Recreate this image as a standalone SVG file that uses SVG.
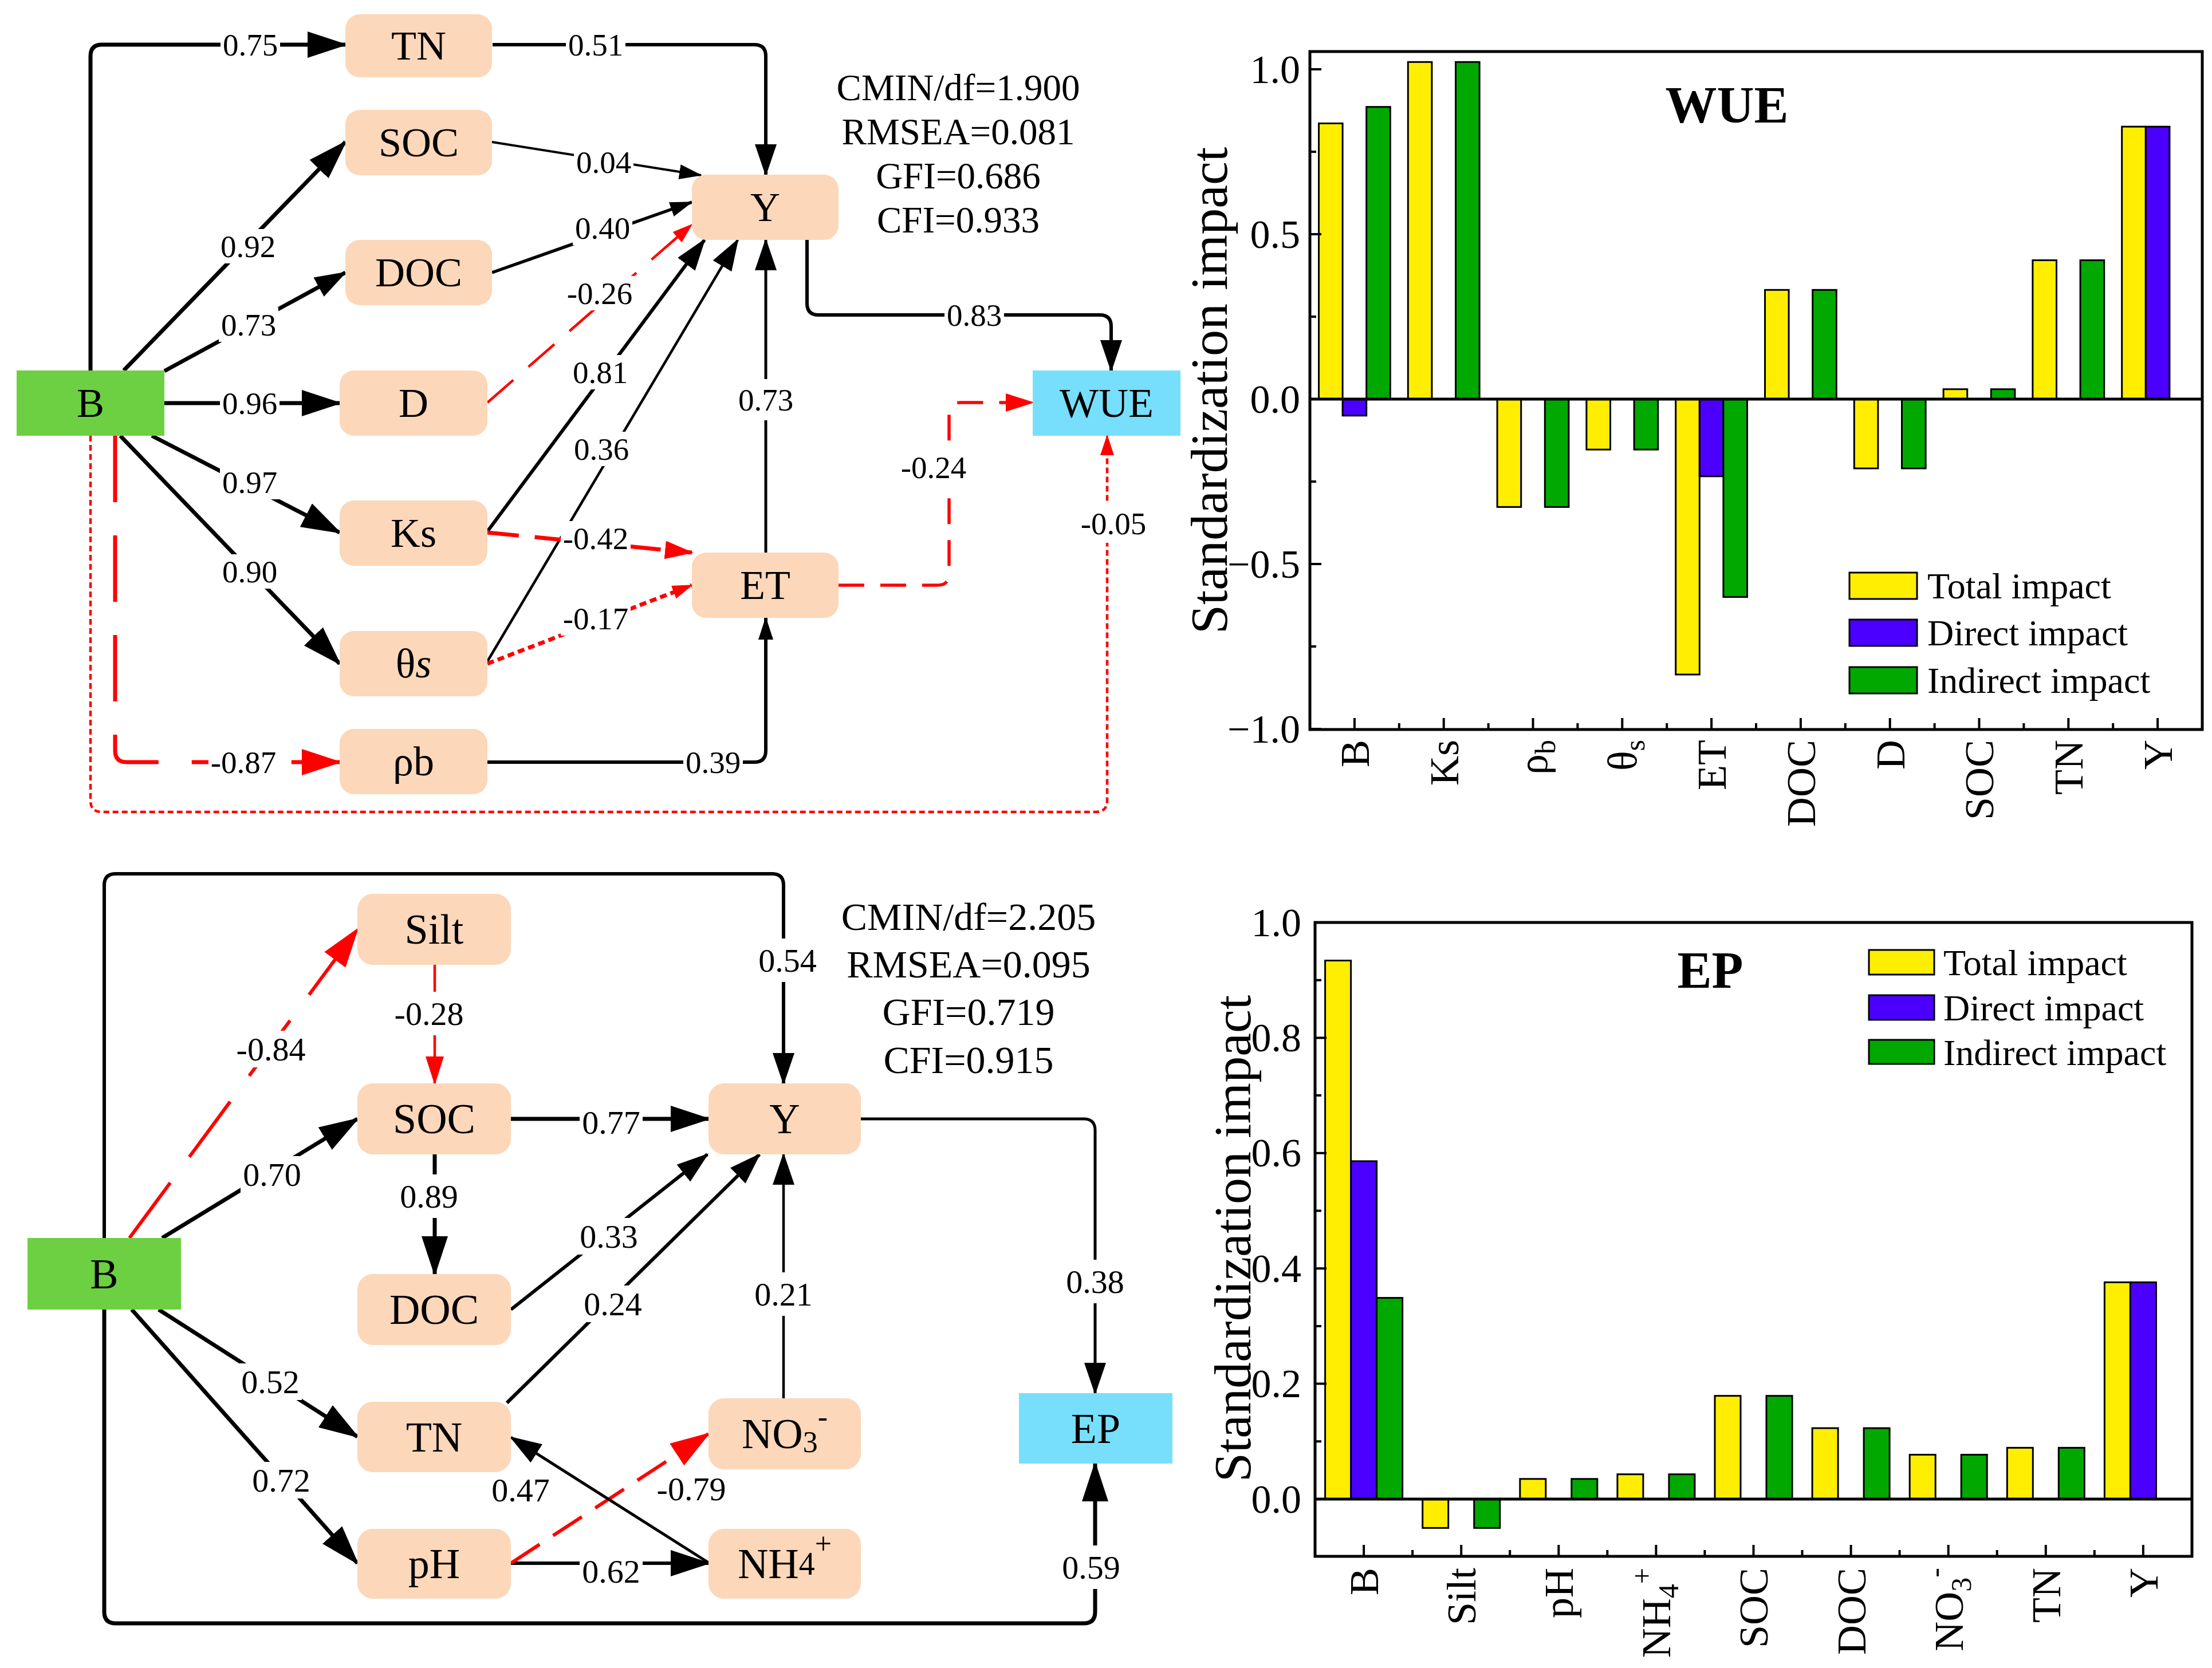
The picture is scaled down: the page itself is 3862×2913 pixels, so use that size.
<svg xmlns="http://www.w3.org/2000/svg" width="3862" height="2913" viewBox="0 0 3862 2913">
<style>
text{font-family:"Liberation Serif","Times New Roman",serif;fill:#000}
.nd{fill:#FCD7B9}
.gb{fill:#6DD042}
.cy{fill:#77DFFC}
.bg{fill:#fff}
.nt{font-size:72px;text-anchor:middle;dominant-baseline:central}
.nt2{font-size:74px;text-anchor:middle;dominant-baseline:central}
.lb{font-size:55px;text-anchor:middle;dominant-baseline:central}
.lb2{font-size:58px;text-anchor:middle;dominant-baseline:central}
.st{font-size:65px;text-anchor:middle}
.st2{font-size:68px;text-anchor:middle}
.k{fill:none;stroke:#000;stroke-linejoin:round}
.r{fill:none;stroke:#f00;stroke-linejoin:round}
.ty{fill:#FFEE00;stroke:#000;stroke-width:3}
.tp{fill:#4B00FF;stroke:#000;stroke-width:3}
.tg{fill:#00A800;stroke:#000;stroke-width:3}
.ax{fill:none;stroke:#000;stroke-width:5}
.tk{stroke:#000;stroke-width:4}
.tl{font-size:70px;text-anchor:end;dominant-baseline:central}
.xl{font-size:72px;text-anchor:end}
.yt{font-size:92px;text-anchor:middle;dominant-baseline:central}
.ct{font-size:90px;font-weight:bold;text-anchor:middle}
.lg{font-size:64px;dominant-baseline:central}
</style>
<defs>
<marker id="kL" viewBox="0 0 70 46" refX="66" refY="23" markerWidth="70" markerHeight="46" markerUnits="userSpaceOnUse" orient="auto"><path d="M0,0L70,23L0,46z" fill="#000"/></marker>
<marker id="kM" viewBox="0 0 56 38" refX="53" refY="19" markerWidth="56" markerHeight="38" markerUnits="userSpaceOnUse" orient="auto"><path d="M0,0L56,19L0,38z" fill="#000"/></marker>
<marker id="kS" viewBox="0 0 40 26" refX="38" refY="13" markerWidth="40" markerHeight="26" markerUnits="userSpaceOnUse" orient="auto"><path d="M0,0L40,13L0,26z" fill="#000"/></marker>
<marker id="rL" viewBox="0 0 70 46" refX="66" refY="23" markerWidth="70" markerHeight="46" markerUnits="userSpaceOnUse" orient="auto"><path d="M0,0L70,23L0,46z" fill="#f00"/></marker>
<marker id="rM" viewBox="0 0 50 32" refX="47" refY="16" markerWidth="50" markerHeight="32" markerUnits="userSpaceOnUse" orient="auto"><path d="M0,0L50,16L0,32z" fill="#f00"/></marker>
<marker id="rS" viewBox="0 0 36 24" refX="34" refY="12" markerWidth="36" markerHeight="24" markerUnits="userSpaceOnUse" orient="auto"><path d="M0,0L36,12L0,24z" fill="#f00"/></marker>
</defs>
<rect width="3862" height="2913" fill="#fff"/>

<!-- ===== Top path diagram connectors ===== -->
<g id="connectors-top">
<path class="k" stroke-width="7" marker-end="url(#kL)" d="M158,647V98Q158,78 178,78H603"/>
<path class="k" stroke-width="6" marker-end="url(#kM)" d="M860,78H1317Q1337,78 1337,98V305"/>
<path class="k" stroke-width="7" marker-end="url(#kL)" d="M216,647L603,248"/>
<path class="k" stroke-width="7" marker-end="url(#kM)" d="M287,648L603,476"/>
<path class="k" stroke-width="7" marker-end="url(#kL)" d="M287,704H593"/>
<path class="k" stroke-width="7" marker-end="url(#kL)" d="M265,761L593,930"/>
<path class="k" stroke-width="7" marker-end="url(#kL)" d="M210,761L593,1159"/>
<path class="r" stroke-width="7" stroke-dasharray="116 58" marker-end="url(#rL)" d="M201,761V1311Q201,1331 221,1331H593"/>
<path class="r" stroke-width="4.5" stroke-dasharray="10 6" marker-end="url(#rS)" d="M158,761V1398Q158,1418 178,1418H1913Q1933,1418 1933,1398V761"/>
<path class="k" stroke-width="4" marker-end="url(#kS)" d="M859,248L1224,306"/>
<path class="k" stroke-width="5.5" marker-end="url(#kS)" d="M859,476L1208,353"/>
<path class="r" stroke-width="4.5" stroke-dasharray="60 35" marker-end="url(#rS)" d="M851,703L1208,392"/>
<path class="k" stroke-width="6" marker-end="url(#kM)" d="M851,928L1230,419"/>
<path class="k" stroke-width="4.5" marker-end="url(#kM)" d="M851,1155L1288,419"/>
<path class="k" stroke-width="5" marker-end="url(#kM)" d="M1337,965V419"/>
<path class="k" stroke-width="6" marker-end="url(#kS)" d="M851,1331H1317Q1337,1331 1337,1311V1079"/>
<path class="k" stroke-width="6" marker-end="url(#kM)" d="M1409,419V530Q1409,550 1429,550H1920Q1940,550 1940,570V647"/>
<path class="r" stroke-width="7" stroke-dasharray="55 28" marker-end="url(#rM)" d="M851,930L1208,965"/>
<path class="r" stroke-width="7" stroke-dasharray="12 7" marker-end="url(#rS)" d="M851,1159L1208,1022"/>
<path class="r" stroke-width="5.5" stroke-dasharray="45 28" marker-end="url(#rM)" d="M1464,1022H1637Q1657,1022 1657,1002V723Q1657,703 1677,703H1803"/>
<rect class="bg" x="385" y="48" width="104" height="60"/><text class="lb" x="437" y="78">0.75</text>
<rect class="bg" x="988" y="48" width="104" height="60"/><text class="lb" x="1040" y="78">0.51</text>
<rect class="bg" x="381" y="400" width="104" height="60"/><text class="lb" x="433" y="430">0.92</text>
<rect class="bg" x="382" y="537" width="104" height="60"/><text class="lb" x="434" y="567">0.73</text>
<rect class="bg" x="384" y="674" width="104" height="60"/><text class="lb" x="436" y="704">0.96</text>
<rect class="bg" x="384" y="812" width="104" height="60"/><text class="lb" x="436" y="842">0.97</text>
<rect class="bg" x="384" y="968" width="104" height="60"/><text class="lb" x="436" y="998">0.90</text>
<rect class="bg" x="364" y="1301" width="122" height="60"/><text class="lb" x="425" y="1331">-0.87</text>
<rect class="bg" x="1002" y="253" width="104" height="60"/><text class="lb" x="1054" y="283">0.04</text>
<rect class="bg" x="1000" y="368" width="104" height="60"/><text class="lb" x="1052" y="398">0.40</text>
<rect class="bg" x="986" y="482" width="122" height="60"/><text class="lb" x="1047" y="512">-0.26</text>
<rect class="bg" x="996" y="620" width="104" height="60"/><text class="lb" x="1048" y="650">0.81</text>
<rect class="bg" x="998" y="754" width="104" height="60"/><text class="lb" x="1050" y="784">0.36</text>
<rect class="bg" x="979" y="910" width="122" height="60"/><text class="lb" x="1040" y="940">-0.42</text>
<rect class="bg" x="979" y="1050" width="122" height="60"/><text class="lb" x="1040" y="1080">-0.17</text>
<rect class="bg" x="1285" y="662" width="104" height="72"/><text class="lb" x="1337" y="698">0.73</text>
<rect class="bg" x="1193" y="1301" width="104" height="60"/><text class="lb" x="1245" y="1331">0.39</text>
<rect class="bg" x="1649" y="520" width="104" height="60"/><text class="lb" x="1701" y="550">0.83</text>
<rect class="bg" x="1569" y="775" width="122" height="78"/><text class="lb" x="1630" y="816">-0.24</text>
<rect class="bg" x="1883" y="880" width="122" height="68"/><text class="lb" x="1944" y="914">-0.05</text>
</g>

<!-- ===== Top nodes ===== -->
<g id="node-top-B"><rect class="gb" x="29" y="647" width="258" height="114"/><text class="nt" x="158" y="704">B</text></g>
<g id="node-top-TN"><rect class="nd" x="603" y="25" width="256" height="110" rx="25"/><text class="nt" x="731" y="80">TN</text></g>
<g id="node-top-SOC"><rect class="nd" x="603" y="192" width="256" height="114" rx="25"/><text class="nt" x="731" y="249">SOC</text></g>
<g id="node-top-DOC"><rect class="nd" x="603" y="419" width="256" height="114" rx="25"/><text class="nt" x="731" y="476">DOC</text></g>
<g id="node-top-D"><rect class="nd" x="593" y="647" width="258" height="114" rx="25"/><text class="nt" x="722" y="704">D</text></g>
<g id="node-top-Ks"><rect class="nd" x="593" y="874" width="258" height="114" rx="25"/><text class="nt" x="722" y="931">Ks</text></g>
<g id="node-top-theta"><rect class="nd" x="593" y="1102" width="258" height="114" rx="25"/><text class="nt" x="722" y="1159">θ<tspan font-style="italic">s</tspan></text></g>
<g id="node-top-rho"><rect class="nd" x="593" y="1273" width="258" height="114" rx="25"/><text class="nt" x="722" y="1330">ρb</text></g>
<g id="node-top-Y"><rect class="nd" x="1208" y="305" width="256" height="114" rx="25"/><text class="nt" x="1336" y="362">Y</text></g>
<g id="node-top-ET"><rect class="nd" x="1208" y="965" width="256" height="114" rx="25"/><text class="nt" x="1336" y="1022">ET</text></g>
<g id="node-top-WUE"><rect class="cy" x="1803" y="647" width="258" height="114"/><text class="nt" x="1932" y="704">WUE</text></g>
<g id="stats-top">
<text class="st" x="1673" y="175">CMIN/df=1.900</text>
<text class="st" x="1673" y="252">RMSEA=0.081</text>
<text class="st" x="1673" y="329">GFI=0.686</text>
<text class="st" x="1673" y="406">CFI=0.933</text>
</g>

<!-- ===== Bottom path diagram connectors ===== -->
<g id="connectors-bottom">
<path class="k" stroke-width="6" marker-end="url(#kM)" d="M182,2162V1546Q182,1526 202,1526H1348Q1368,1526 1368,1546V1892"/>
<path class="k" stroke-width="7" marker-end="url(#kL)" d="M182,2287V2815Q182,2835 202,2835H1892Q1912,2835 1912,2815V2556"/>
<path class="r" stroke-width="6" stroke-dasharray="120 56" marker-end="url(#rL)" d="M226,2162L624,1623"/>
<path class="k" stroke-width="7" marker-end="url(#kL)" d="M283,2162L624,1954"/>
<path class="r" stroke-width="4.5" marker-end="url(#rM)" d="M759,1685V1892"/>
<path class="k" stroke-width="7" marker-end="url(#kL)" d="M759,2016V2225"/>
<path class="k" stroke-width="7" marker-end="url(#kL)" d="M892,1954H1237"/>
<path class="k" stroke-width="6" marker-end="url(#kM)" d="M892,2287L1235,2016"/>
<path class="k" stroke-width="6" marker-end="url(#kM)" d="M885,2450L1326,2016"/>
<path class="k" stroke-width="4.5" marker-end="url(#kM)" d="M1368,2442V2016"/>
<path class="k" stroke-width="5" marker-end="url(#kM)" d="M1503,1954H1892Q1912,1954 1912,1974V2433"/>
<path class="k" stroke-width="6" marker-end="url(#kL)" d="M892,2730H1237"/>
<path class="r" stroke-width="6" stroke-dasharray="60 28" marker-end="url(#rL)" d="M892,2730L1237,2504"/>
<path class="k" stroke-width="5" marker-end="url(#kM)" d="M1237,2729L892,2510"/>
<path class="k" stroke-width="7" marker-end="url(#kL)" d="M277,2287L624,2509"/>
<path class="k" stroke-width="7" marker-end="url(#kL)" d="M230,2287L624,2730"/>
<rect class="bg" x="1320" y="1639" width="110" height="76"/><text class="lb2" x="1375" y="1677">0.54</text>
<rect class="bg" x="408" y="1800" width="130" height="64"/><text class="lb2" x="473" y="1832">-0.84</text>
<rect class="bg" x="420" y="2019" width="110" height="64"/><text class="lb2" x="475" y="2051">0.70</text>
<rect class="bg" x="684" y="1732" width="130" height="76"/><text class="lb2" x="749" y="1770">-0.28</text>
<rect class="bg" x="694" y="2051" width="110" height="76"/><text class="lb2" x="749" y="2089">0.89</text>
<rect class="bg" x="1012" y="1928" width="110" height="64"/><text class="lb2" x="1067" y="1960">0.77</text>
<rect class="bg" x="1008" y="2127" width="110" height="64"/><text class="lb2" x="1063" y="2159">0.33</text>
<rect class="bg" x="1015" y="2245" width="110" height="64"/><text class="lb2" x="1070" y="2277">0.24</text>
<rect class="bg" x="1313" y="2222" width="110" height="76"/><text class="lb2" x="1368" y="2260">0.21</text>
<rect class="bg" x="1857" y="2200" width="110" height="76"/><text class="lb2" x="1912" y="2238">0.38</text>
<rect class="bg" x="417" y="2381" width="110" height="64"/><text class="lb2" x="472" y="2413">0.52</text>
<rect class="bg" x="436" y="2553" width="110" height="64"/><text class="lb2" x="491" y="2585">0.72</text>
<text class="lb2" x="909" y="2602">0.47</text>
<text class="lb2" x="1207" y="2600">-0.79</text>
<rect class="bg" x="1012" y="2712" width="110" height="64"/><text class="lb2" x="1067" y="2744">0.62</text>
<rect class="bg" x="1850" y="2699" width="110" height="76"/><text class="lb2" x="1905" y="2737">0.59</text>
</g>

<!-- ===== Bottom nodes ===== -->
<g id="node-bot-B"><rect class="gb" x="48" y="2162" width="268" height="125"/><text class="nt2" x="182" y="2225">B</text></g>
<g id="node-bot-Silt"><rect class="nd" x="624" y="1561" width="268" height="124" rx="27"/><text class="nt2" x="758" y="1623">Silt</text></g>
<g id="node-bot-SOC"><rect class="nd" x="624" y="1892" width="268" height="124" rx="27"/><text class="nt2" x="758" y="1954">SOC</text></g>
<g id="node-bot-DOC"><rect class="nd" x="624" y="2225" width="268" height="124" rx="27"/><text class="nt2" x="758" y="2287">DOC</text></g>
<g id="node-bot-TN"><rect class="nd" x="624" y="2448" width="268" height="123" rx="27"/><text class="nt2" x="758" y="2510">TN</text></g>
<g id="node-bot-pH"><rect class="nd" x="624" y="2670" width="268" height="122" rx="27"/><text class="nt2" x="758" y="2731">pH</text></g>
<g id="node-bot-Y"><rect class="nd" x="1237" y="1892" width="266" height="124" rx="27"/><text class="nt2" x="1370" y="1954">Y</text></g>
<g id="node-bot-NO3"><rect class="nd" x="1237" y="2442" width="266" height="124" rx="27"/><text class="nt2" x="1370" y="2504">NO<tspan font-size="52" dy="14">3</tspan><tspan font-size="52" dy="-44">-</tspan></text></g>
<g id="node-bot-NH4"><rect class="nd" x="1237" y="2670" width="266" height="122" rx="27"/><text class="nt2" x="1370" y="2731">NH<tspan font-size="56">4</tspan><tspan font-size="52" dy="-36">+</tspan></text></g>
<g id="node-bot-EP"><rect class="cy" x="1779" y="2433" width="268" height="123"/><text class="nt2" x="1913" y="2495">EP</text></g>
<g id="stats-bottom">
<text class="st2" x="1691" y="1624">CMIN/df=2.205</text>
<text class="st2" x="1691" y="1707">RMSEA=0.095</text>
<text class="st2" x="1691" y="1790">GFI=0.719</text>
<text class="st2" x="1691" y="1874">CFI=0.915</text>
</g>

<!-- ===== WUE bar chart ===== -->
<g id="chart-wue">
<rect class="ty" x="2302.5" y="215.5" width="41.6" height="481.5"/>
<rect class="tp" x="2344.1" y="697" width="41.6" height="28.8"/>
<rect class="tg" x="2385.7" y="186.7" width="41.6" height="510.3"/>
<rect class="ty" x="2458.3" y="108.3" width="41.6" height="588.7"/>
<rect class="tg" x="2541.5" y="108.3" width="41.6" height="588.7"/>
<rect class="ty" x="2614.1" y="697" width="41.6" height="188.4"/>
<rect class="tg" x="2697.3" y="697" width="41.6" height="188.4"/>
<rect class="ty" x="2769.9" y="697" width="41.6" height="88.1"/>
<rect class="tg" x="2853.1" y="697" width="41.6" height="88.1"/>
<rect class="ty" x="2925.7" y="697" width="41.6" height="481"/>
<rect class="tp" x="2967.3" y="697" width="41.6" height="134.8"/>
<rect class="tg" x="3008.9" y="697" width="41.6" height="345.6"/>
<rect class="ty" x="3081.5" y="506.3" width="41.6" height="190.7"/>
<rect class="tg" x="3164.7" y="506.3" width="41.6" height="190.7"/>
<rect class="ty" x="3237.3" y="697" width="41.6" height="121"/>
<rect class="tg" x="3320.5" y="697" width="41.6" height="121"/>
<rect class="ty" x="3393.1" y="679.7" width="41.6" height="17.3"/>
<rect class="tg" x="3476.3" y="679.7" width="41.6" height="17.3"/>
<rect class="ty" x="3548.9" y="454.5" width="41.6" height="242.5"/>
<rect class="tg" x="3632.1" y="454.5" width="41.6" height="242.5"/>
<rect class="ty" x="3704.7" y="221.2" width="41.6" height="475.8"/>
<rect class="tp" x="3746.3" y="221.2" width="41.6" height="475.8"/>
<line class="ax" x1="2287" y1="697" x2="3845" y2="697"/>
<rect class="ax" x="2287" y="90" width="1558" height="1184"/>
<path class="tk" d="M2287,121h20M2287,409h20M2287,697h20M2287,985h20M2287,1273h20M2287,265h11M2287,553h11M2287,841h11M2287,1129h11"/>
<path class="tk" d="M2364.9,1274v-20M2520.7,1274v-20M2676.5,1274v-20M2832.3,1274v-20M2988.1,1274v-20M3143.9,1274v-20M3299.7,1274v-20M3455.5,1274v-20M3611.3,1274v-20M3767.1,1274v-20M2442.8,1274v-11M2598.6,1274v-11M2754.4,1274v-11M2910.2,1274v-11M3066,1274v-11M3221.8,1274v-11M3377.6,1274v-11M3533.4,1274v-11M3689.2,1274v-11"/>
<text class="tl" x="2270" y="121">1.0</text>
<text class="tl" x="2270" y="409">0.5</text>
<text class="tl" x="2270" y="697">0.0</text>
<text class="tl" x="2270" y="985">−0.5</text>
<text class="tl" x="2270" y="1273">−1.0</text>
<text class="yt" transform="translate(2111,682) rotate(-90)">Standardization impact</text>
<text class="ct" x="3015" y="214">WUE</text>
<rect class="ty" x="3229" y="1000" width="118" height="46"/>
<rect class="tp" x="3229" y="1082" width="118" height="46"/>
<rect class="tg" x="3229" y="1165" width="118" height="46"/>
<text class="lg" x="3365" y="1023">Total impact</text>
<text class="lg" x="3365" y="1105">Direct impact</text>
<text class="lg" x="3365" y="1188">Indirect impact</text>
<text class="xl" transform="translate(2390,1292) rotate(-90)">B</text>
<text class="xl" transform="translate(2546,1292) rotate(-90)">Ks</text>
<text class="xl" transform="translate(2701,1292) rotate(-90)">ρ<tspan font-size="50" dy="14">b</tspan></text>
<text class="xl" transform="translate(2857,1292) rotate(-90)">θ<tspan font-size="50" dy="14">s</tspan></text>
<text class="xl" transform="translate(3013,1292) rotate(-90)">ET</text>
<text class="xl" transform="translate(3169,1292) rotate(-90)">DOC</text>
<text class="xl" transform="translate(3325,1292) rotate(-90)">D</text>
<text class="xl" transform="translate(3480,1292) rotate(-90)">SOC</text>
<text class="xl" transform="translate(3636,1292) rotate(-90)">TN</text>
<text class="xl" transform="translate(3792,1292) rotate(-90)">Y</text>
</g>

<!-- ===== EP bar chart ===== -->
<g id="chart-ep">
<rect class="ty" x="2313.6" y="1677.5" width="45" height="940.5"/>
<rect class="tp" x="2358.6" y="2027.9" width="45" height="590.1"/>
<rect class="tg" x="2403.6" y="2266.6" width="45" height="351.4"/>
<rect class="ty" x="2483.7" y="2618" width="45" height="50.4"/>
<rect class="tg" x="2573.7" y="2618" width="45" height="50.4"/>
<rect class="ty" x="2653.8" y="2582.8" width="45" height="35.2"/>
<rect class="tg" x="2743.8" y="2582.8" width="45" height="35.2"/>
<rect class="ty" x="2823.9" y="2574.7" width="45" height="43.3"/>
<rect class="tg" x="2913.9" y="2574.7" width="45" height="43.3"/>
<rect class="ty" x="2994" y="2437.7" width="45" height="180.3"/>
<rect class="tg" x="3084" y="2437.7" width="45" height="180.3"/>
<rect class="ty" x="3164.1" y="2494.1" width="45" height="123.9"/>
<rect class="tg" x="3254.1" y="2494.1" width="45" height="123.9"/>
<rect class="ty" x="3334.2" y="2540.5" width="45" height="77.5"/>
<rect class="tg" x="3424.2" y="2540.5" width="45" height="77.5"/>
<rect class="ty" x="3504.3" y="2528.4" width="45" height="89.6"/>
<rect class="tg" x="3594.3" y="2528.4" width="45" height="89.6"/>
<rect class="ty" x="3674.4" y="2239.4" width="45" height="378.6"/>
<rect class="tp" x="3719.4" y="2239.4" width="45" height="378.6"/>
<line class="ax" x1="2296" y1="2618" x2="3827" y2="2618"/>
<rect class="ax" x="2296" y="1611" width="1531" height="1107"/>
<path class="tk" d="M2296,1611h20M2296,1812.4h20M2296,2013.8h20M2296,2215.2h20M2296,2416.6h20M2296,2618h20M2296,1711.7h11M2296,1913.1h11M2296,2114.5h11M2296,2315.9h11M2296,2517.3h11"/>
<path class="tk" d="M2381.1,2718v-20M2551.2,2718v-20M2721.3,2718v-20M2891.4,2718v-20M3061.5,2718v-20M3231.6,2718v-20M3401.7,2718v-20M3571.8,2718v-20M3741.9,2718v-20M2466.1,2718v-11M2636.2,2718v-11M2806.3,2718v-11M2976.4,2718v-11M3146.5,2718v-11M3316.6,2718v-11M3486.7,2718v-11M3656.8,2718v-11"/>
<text class="tl" x="2272" y="1611">1.0</text>
<text class="tl" x="2272" y="1812.4">0.8</text>
<text class="tl" x="2272" y="2013.8">0.6</text>
<text class="tl" x="2272" y="2215.2">0.4</text>
<text class="tl" x="2272" y="2416.6">0.2</text>
<text class="tl" x="2272" y="2618">0.0</text>
<text class="yt" transform="translate(2152,2163) rotate(-90)">Standardization impact</text>
<text class="ct" x="2986" y="1725">EP</text>
<rect class="ty" x="3263" y="1659" width="114" height="43"/>
<rect class="tp" x="3263" y="1738" width="114" height="43"/>
<rect class="tg" x="3263" y="1816" width="114" height="42"/>
<text class="lg" x="3393" y="1681">Total impact</text>
<text class="lg" x="3393" y="1760">Direct impact</text>
<text class="lg" x="3393" y="1838">Indirect impact</text>
<text class="xl" transform="translate(2406,2738) rotate(-90)">B</text>
<text class="xl" transform="translate(2576,2738) rotate(-90)">Silt</text>
<text class="xl" transform="translate(2746,2738) rotate(-90)">pH</text>
<text class="xl" transform="translate(2916,2738) rotate(-90)">NH<tspan font-size="50" dy="14">4</tspan><tspan font-size="50" dy="-46">+</tspan></text>
<text class="xl" transform="translate(3086,2738) rotate(-90)">SOC</text>
<text class="xl" transform="translate(3257,2738) rotate(-90)">DOC</text>
<text class="xl" transform="translate(3427,2738) rotate(-90)">NO<tspan font-size="50" dy="14">3</tspan><tspan font-size="50" dy="-46">-</tspan></text>
<text class="xl" transform="translate(3597,2738) rotate(-90)">TN</text>
<text class="xl" transform="translate(3767,2738) rotate(-90)">Y</text>
</g>
</svg>
